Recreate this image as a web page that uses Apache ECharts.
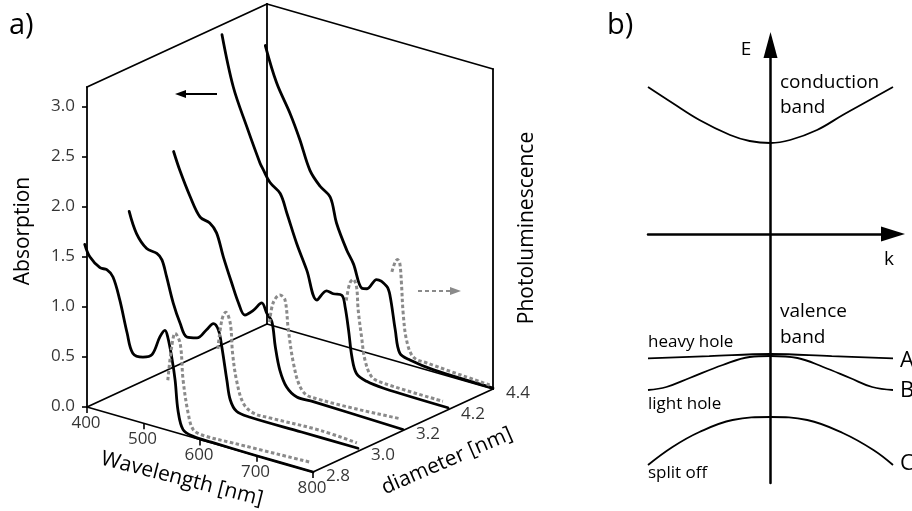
<!DOCTYPE html>
<html><head><meta charset="utf-8">
<script src="https://cdn.jsdelivr.net/npm/echarts@6/dist/echarts.min.js"></script>
<style>html,body{margin:0;padding:0;background:#fff}#chart{width:912px;height:511px}</style>
</head><body><div id="chart"></div>
<script>
// ---------------- Panel a) data ----------------
const wavelengthTicks = [400, 500, 600, 700, 800];
const absorptionTicks = [0, 0.5, 1.0, 1.5, 2.0, 2.5, 3.0];
const diameterLabels = ['2.8', '3.0', '3.2', '4.2', '4.4'];
// absorption spectra [wavelength nm, absorption], one per diameter
const absorption28 = [[396,1.62],[405,1.51],[423,1.43],[435,1.43],[446,1.375],[458,1.165],[471,0.855],[481,0.67],[499,0.66],[515,0.71],[529,0.91],[538,0.99],[543,0.93],[550,0.74],[556,0.52],[561,0.23],[570,0.05],[588,0.012],[620,0.006],[700,0.0],[800,0.0]];
const absorption30 = [[395,1.74],[408,1.54],[426,1.42],[444,1.40],[453,1.35],[461,1.20],[473,0.95],[485,0.77],[497,0.65],[515,0.67],[532,0.78],[544,0.86],[553,0.81],[559,0.65],[568,0.33],[574,0.145],[585,0.05],[609,0.03],[700,0.03],[800,0.03]];
const absorption32 = [[394,2.13],[405,1.96],[423,1.73],[441,1.55],[458,1.52],[470,1.44],[482,1.22],[497,0.98],[509,0.80],[520,0.70],[535,0.77],[550,0.87],[559,0.78],[568,0.71],[574,0.47],[582,0.25],[594,0.10],[612,0.03],[641,0.03],[800,0.01]];
const absorption42 = [[400,3.10],[420,2.61],[444,2.25],[467,1.93],[473,1.87],[485,1.76],[503,1.68],[515,1.50],[532,1.23],[550,0.99],[568,0.72],[585,0.84],[597,0.83],[612,0.84],[618,0.73],[624,0.51],[630,0.25],[638,0.10],[656,0.05],[686,0.03],[800,0.02]];
const absorption44 = [[397,2.78],[417,2.44],[441,2.17],[458,1.94],[476,1.66],[494,1.53],[512,1.45],[523,1.21],[541,0.97],[553,0.85],[568,0.63],[577,0.64],[594,0.76],[612,0.72],[618,0.63],[627,0.31],[635,0.09],[653,0.05],[695,0.02],[800,0.01]];
// photoluminescence spectra [wavelength nm, intensity]
const pl28 = [[543,0.50],[550,0.85],[556,0.99],[565,0.90],[570,0.55],[579,0.23],[588,0.08],[606,0.05],[659,0.06],[795,0.09]];
const pl30 = [[552,0.62],[559,0.92],[566,1.01],[574,0.91],[578,0.62],[585,0.36],[597,0.15],[615,0.08],[644,0.08],[733,0.10],[798,0.08]];
const pl32 = [[564,0.70],[570,0.90],[582,1.00],[591,0.97],[597,0.68],[606,0.36],[618,0.14],[635,0.07],[795,0.11]];
const pl42 = [[620,0.80],[626,0.98],[632,1.03],[638,0.97],[641,0.74],[647,0.48],[653,0.26],[665,0.11],[686,0.08],[791,0.07]];
const pl44 = [[621,0.88],[627,0.99],[631,1.02],[635,0.99],[638,0.79],[641,0.50],[647,0.24],[659,0.09],[683,0.07],[795,0.03]];
const absorptionSets = [absorption28, absorption30, absorption32, absorption42, absorption44];
const plSets = [pl28, pl30, pl32, pl42, pl44];

// ---------------- Panel b) data ----------------
// [k (arb.), E (arb.)]
const conductionBand = [[-1,1.47],[-0.80,1.31],[-0.58,1.14],[-0.33,0.99],[-0.17,0.93],[0,0.91],[0.16,0.94],[0.38,1.04],[0.59,1.19],[0.81,1.34],[1,1.47]];
const heavyHole = [[-1,-1.243],[-0.5,-1.222],[0,-1.20],[0.5,-1.222],[1,-1.243]];
const lightHole = [[-1,-1.56],[-0.85,-1.53],[-0.66,-1.44],[-0.39,-1.31],[-0.17,-1.23],[0,-1.22],[0.22,-1.24],[0.43,-1.33],[0.65,-1.44],[0.83,-1.53],[1,-1.56]];
const splitOff = [[-1,-2.31],[-0.80,-2.13],[-0.58,-1.98],[-0.31,-1.86],[0,-1.83],[0.30,-1.86],[0.59,-1.99],[0.84,-2.16],[1,-2.31]];

// ---------------- oblique projection for the waterfall box ----------------
const W0 = 400, W1 = 800, A1 = 3.2, D1 = diameterLabels.length - 1;
const PROJ = {ox: 87, oy: 407, wVec: [226, 65], dVec: [180, -83], aVec: [0, -320]};
function project(w, di, a) {
  const fw = (w - W0) / (W1 - W0), fd = di / D1, fa = a / A1;
  return [PROJ.ox + PROJ.wVec[0]*fw + PROJ.dVec[0]*fd + PROJ.aVec[0]*fa,
          PROJ.oy + PROJ.wVec[1]*fw + PROJ.dVec[1]*fd + PROJ.aVec[1]*fa];
}

const FONT = '"Open Sans", "DejaVu Sans", sans-serif';
const series = [];

// box edges
const boxEdges = [
  [[W0,0,0],[W0,0,A1]], [[W0,0,A1],[W0,D1,A1]], [[W0,D1,0],[W0,D1,A1]],
  [[W0,D1,A1],[W1,D1,A1]], [[W1,D1,0],[W1,D1,A1]],
  [[W0,0,0],[W1,0,0]], [[W1,0,0],[W1,D1,0]], [[W0,0,0],[W0,D1,0]], [[W0,D1,0],[W1,D1,0]]
];
series.push({
  type: 'lines', coordinateSystem: 'cartesian2d', xAxisIndex: 0, yAxisIndex: 0, z: 2, silent: true,
  lineStyle: {color: '#000', width: 1.8, opacity: 1, cap: 'round'},
  data: boxEdges.map(e => ({coords: [project(...e[0]), project(...e[1])]}))
});
// ticks
const tickSegs = [];
absorptionTicks.forEach(a => { const p = project(W0, 0, a); tickSegs.push({coords: [p, [p[0]-5, p[1]]]}); });
wavelengthTicks.forEach(w => { const p = project(w, 0, 0); tickSegs.push({coords: [p, [p[0], p[1]+6]]}); });
series.push({
  type: 'lines', coordinateSystem: 'cartesian2d', xAxisIndex: 0, yAxisIndex: 0, z: 2, silent: true,
  lineStyle: {color: '#000', width: 1.6, opacity: 1},
  data: tickSegs
});
// tick labels
function labelSeries(points, texts, offset) {
  return {
    type: 'scatter', xAxisIndex: 0, yAxisIndex: 0, symbolSize: 0, silent: true, z: 4,
    data: points.map((p, i) => ({value: p, name: texts[i]})),
    label: {show: true, position: 'inside', offset: offset, formatter: '{b}', color: '#000', fontSize: 17, fontFamily: FONT}
  };
}
series.push(labelSeries(absorptionTicks.map(a => project(W0, 0, a)), absorptionTicks.map(a => a.toFixed(1)), [-24, -1]));
series.push(labelSeries(wavelengthTicks.map(w => project(w, 0, 0)), wavelengthTicks.map(String), [-1, 16]));
series.push(labelSeries(diameterLabels.map((d, i) => project(W1, i, 0)), diameterLabels, [25, 4]));

// spectra, back to front
for (let i = absorptionSets.length - 1; i >= 0; i--) {
  series.push({
    type: 'line', xAxisIndex: 0, yAxisIndex: 0, z: 3, showSymbol: false, smooth: 0.35, silent: true,
    lineStyle: {color: '#000', width: 2.8, cap: 'round', join: 'round'},
    data: absorptionSets[i].map(([w, a]) => project(w, i, a))
  });
  series.push({
    type: 'line', xAxisIndex: 0, yAxisIndex: 0, z: 3, showSymbol: false, smooth: 0.35, silent: true,
    lineStyle: {color: '#8a8a8a', width: 3, type: [3.5, 2.5]},
    data: plSets[i].map(([w, a]) => project(w, i, a))
  });
}

// band diagram curves
[conductionBand, heavyHole, lightHole, splitOff].forEach(arr => {
  series.push({
    type: 'line', xAxisIndex: 1, yAxisIndex: 1, showSymbol: false, smooth: 0.4, silent: true,
    lineStyle: {color: '#000', width: 1.8}, data: arr
  });
});

function txt(text, x, y, size, opts) {
  return Object.assign({type: 'text', x: x, y: y, silent: true,
    style: Object.assign({text: text, font: size + 'px ' + FONT, fill: '#000', align: 'left', verticalAlign: 'middle'}, (opts && opts.style) || {})},
    (opts && opts.el) || {});
}

const option = {
  animation: false,
  backgroundColor: '#fff',
  grid: [
    {left: 0, top: 0, width: 912, height: 511},
    {left: 648, top: 45, width: 245, height: 438}
  ],
  xAxis: [
    {type: 'value', gridIndex: 0, min: 0, max: 912, show: false},
    {type: 'value', gridIndex: 1, min: -1, max: 1, axisLine: {show: true, onZero: true, symbol: ['none', 'triangle'], symbolSize: [15, 24], lineStyle: {color: '#000', width: 2.5}},
      axisTick: {show: false}, axisLabel: {show: false}, splitLine: {show: false}}
  ],
  yAxis: [
    {type: 'value', gridIndex: 0, min: 0, max: 511, inverse: true, show: false},
    {type: 'value', gridIndex: 1, min: -2.49, max: 1.89, axisLine: {show: true, onZero: true, symbol: ['none', 'triangle'], symbolSize: [14, 26], lineStyle: {color: '#000', width: 2.5}},
      axisTick: {show: false}, axisLabel: {show: false}, splitLine: {show: false}}
  ],
  series: series,
  graphic: [
    txt('a)', 9, 26, 29),
    txt('b)', 607, 26, 29),
    txt('Absorption', 23, 231, 21, {style: {align: 'center'}, el: {rotation: Math.PI / 2}}),
    txt('Photoluminescence', 527, 228, 21, {style: {align: 'center'}, el: {rotation: Math.PI / 2}}),
    txt('Wavelength [nm]', 182, 479, 21, {style: {align: 'center'}, el: {rotation: -0.25}}),
    txt('diameter [nm]', 447, 461, 21, {style: {align: 'center'}, el: {rotation: 0.41}}),
    // arrows indicating which axis each curve family belongs to
    {type: 'line', silent: true, shape: {x1: 183, y1: 94, x2: 217, y2: 94}, style: {stroke: '#000', lineWidth: 2}},
    {type: 'polygon', silent: true, shape: {points: [[175, 94], [186, 90], [186, 98]]}, style: {fill: '#000'}},
    {type: 'line', silent: true, shape: {x1: 418, y1: 291, x2: 452, y2: 291}, style: {stroke: '#8a8a8a', lineWidth: 2, lineDash: [4, 3]}},
    {type: 'polygon', silent: true, shape: {points: [[461, 291], [450, 287], [450, 295]]}, style: {fill: '#8a8a8a'}},
    // band diagram labels
    txt('E', 746, 50, 19, {style: {align: 'center'}}),
    txt('k', 889, 260, 19, {style: {align: 'center'}}),
    txt('conduction', 780, 83, 19),
    txt('band', 780, 108, 19),
    txt('valence', 780, 312, 19),
    txt('band', 780, 338, 19),
    txt('heavy hole', 648, 342, 17),
    txt('light hole', 648, 404, 17),
    txt('split off', 648, 473, 17),
    txt('A', 900, 361, 22),
    txt('B', 900, 391, 22),
    txt('C', 900, 464, 22)
  ]
};
const chart = echarts.init(document.getElementById('chart'), null, {renderer: 'canvas'});
chart.setOption(option);
</script>
</body></html>
